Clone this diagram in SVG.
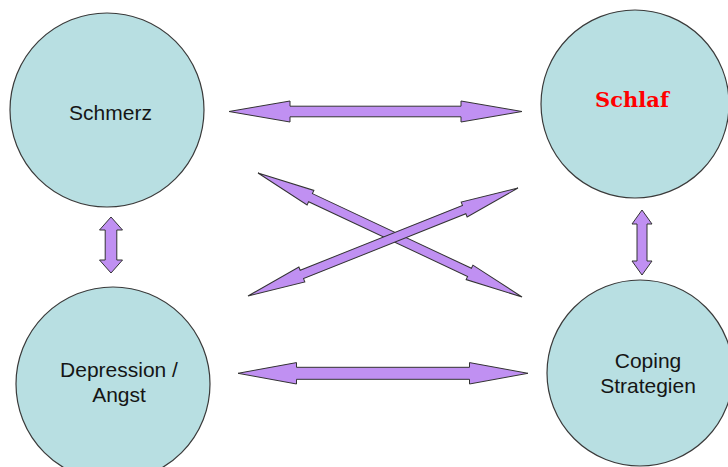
<svg xmlns="http://www.w3.org/2000/svg" width="728" height="467" viewBox="0 0 728 467">
<style>
.node{fill:#b8dfe2;stroke:#3a3a3a;stroke-width:1.2}
.lbl{font-family:"Liberation Sans",Arial,sans-serif;font-size:21px;fill:#151515;text-anchor:middle}
.red{font-family:"DejaVu Serif","Liberation Serif",serif;font-size:21px;font-weight:bold;fill:#ff0000;text-anchor:middle}
.arr{fill:#c090f2;stroke:#333;stroke-width:1;stroke-linejoin:miter}
</style>
<rect width="728" height="467" fill="#ffffff"/>
<g id="connectors">
<polygon class="arr" transform="translate(229,111.5)" points="0,0 61,-10.5 61,-5.3 232,-5.3 232,-10.5 293,0 232,10.5 232,5.3 61,5.3 61,10.5"/>
<polygon class="arr" transform="translate(238,373.3)" points="0,0 58.5,-10.7 58.5,-6 231.5,-6 231.5,-10.7 290,0 231.5,10.7 231.5,6 58.5,6 58.5,10.7"/>
<polygon class="arr" transform="translate(258,173) rotate(25.16)" points="0,0 58,-8 58,-4.5 233.7,-4.5 233.7,-8 291.7,0 233.7,8 233.7,4.5 58,4.5 58,8"/>
<polygon class="arr" transform="translate(248,296) rotate(-21.8)" points="0,0 58,-8 58,-4.5 232.8,-4.5 232.8,-8 290.8,0 232.8,8 232.8,4.5 58,4.5 58,8"/>
<polygon class="arr" transform="translate(111,217) rotate(90)" points="0,0 13,-11.5 13,-5.8 43,-5.8 43,-11.5 56,0 43,11.5 43,5.8 13,5.8 13,11.5"/>
<polygon class="arr" transform="translate(642,210) rotate(90)" points="0,0 14,-10 14,-5 51,-5 51,-10 65,0 51,10 51,5 14,5 14,10"/>
</g>
<g id="schmerz">
<circle class="node" cx="107" cy="110" r="97"/>
<text class="lbl" x="110.5" y="120">Schmerz</text>
</g>
<g id="schlaf">
<circle class="node" cx="635" cy="104" r="94"/>
<text class="red" x="632" y="107">Schlaf</text>
</g>
<g id="depression">
<circle class="node" cx="113" cy="384" r="97"/>
<text class="lbl" x="119" y="377">Depression /</text>
<text class="lbl" x="119" y="402">Angst</text>
</g>
<g id="coping">
<circle class="node" cx="640" cy="373" r="93"/>
<text class="lbl" x="648" y="368">Coping</text>
<text class="lbl" x="648" y="393">Strategien</text>
</g>
</svg>
